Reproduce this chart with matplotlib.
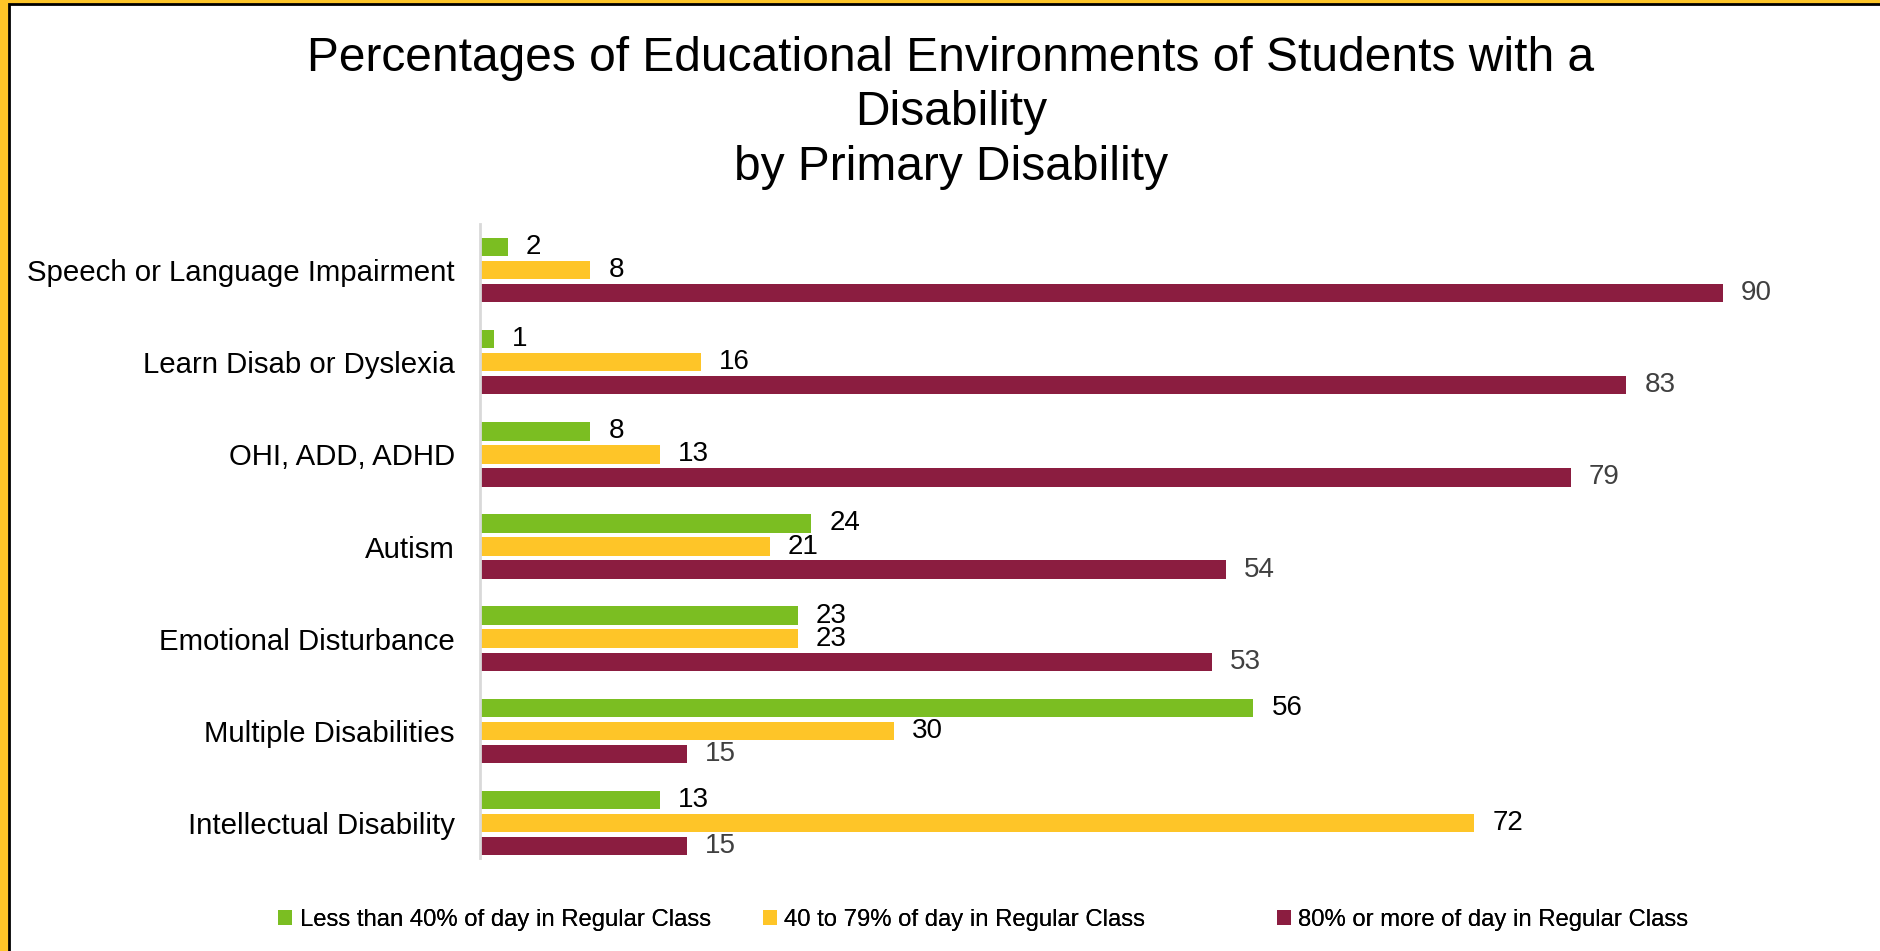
import numpy as np
import matplotlib
matplotlib.use("Agg")
import matplotlib.pyplot as plt
from matplotlib.patches import Rectangle, Patch

plt.rcParams['font.family'] = ['Liberation Sans', 'DejaVu Sans']

# data: percent of students in each setting, by primary disability
categories = ["Speech or Language Impairment", "Learn Disab or Dyslexia",
              "OHI, ADD, ADHD", "Autism", "Emotional Disturbance",
              "Multiple Disabilities", "Intellectual Disability"]
less_40 = [2, 1, 8, 24, 23, 56, 13]
from_40_79 = [8, 16, 13, 21, 23, 30, 72]
over_80 = [90, 83, 79, 54, 53, 15, 15]
series_names = ["Less than 40% of day in Regular Class",
                "40 to 79% of day in Regular Class",
                "80% or more of day in Regular Class"]

colors = ['#7BBE22', '#FEC528', '#8B1D40']
label_colors = ['black', 'black', '#404040']

W, H = 1881, 951
fig = plt.figure(figsize=(W / 100, H / 100), dpi=100)

# yellow frame with a thin black rule inside
fig.patches.append(Rectangle((0, 0), 1, 1, transform=fig.transFigure,
                             facecolor='#FEC528', edgecolor='none', zorder=-3))
fig.patches.append(Rectangle((9 / W, -0.1), 1.2, 1.1 - 4 / H,
                             transform=fig.transFigure, facecolor='white',
                             edgecolor='black', linewidth=2, zorder=-2))

ax = fig.add_axes([480 / W, 1 - 858 / H, 1381 / W, 634 / H])
ax.set_facecolor('none')

y = np.arange(len(categories))
h = 0.2
offsets = [-0.25, 0, 0.25]
for vals, off, c, lc, name in zip([less_40, from_40_79, over_80], offsets,
                                  colors, label_colors, series_names):
    bars = ax.barh(y + off, vals, height=h, color=c, label=name)
    ax.bar_label(bars, padding=13, fontsize=20, color=lc)

ax.set_xlim(0, 100)
ax.set_ylim(len(categories) - 0.62, -0.5)
ax.set_yticks(y)
ax.set_yticklabels(categories, fontsize=21.2)
ax.tick_params(axis='y', length=0, pad=18)
ax.set_xticks([])
for s in ['top', 'right', 'bottom']:
    ax.spines[s].set_visible(False)
ax.spines['left'].set_color('#D9D9D9')
ax.spines['left'].set_linewidth(2)

fig.text(951 / W, 1 - 36 / H,
         "Percentages of Educational Environments of Students with a\nDisability\nby Primary Disability",
         ha='center', va='top', fontsize=34.5, linespacing=1.27)

# legend entries placed one by one along the bottom
legend_x = [278, 763, 1277]
for c, name, lx in zip(colors, series_names, legend_x):
    leg = fig.legend([Patch(facecolor=c)], [name], loc='center left',
                     bbox_to_anchor=(lx / W, 1 - 920 / H), frameon=False,
                     fontsize=17.2, handlelength=0.6, handleheight=0.6,
                     handletextpad=0.3, borderpad=0, borderaxespad=0)
    fig.add_artist(leg)

fig.savefig("out.png", dpi=100)
